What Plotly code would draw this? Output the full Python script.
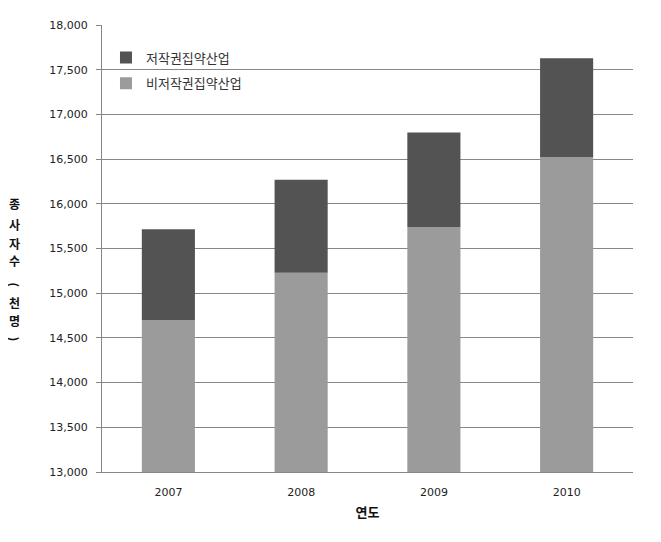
import plotly.graph_objects as go

years = ["2007", "2008", "2009", "2010"]
non_copyright = [14700, 15230, 15740, 16520]      # 비저작권집약산업
copyright_ = [1015, 1040, 1057, 1108]             # 저작권집약산업
y_ticks = [13000, 13500, 14000, 14500, 15000, 15500, 16000, 16500, 17000, 17500, 18000]
y_ticktext = [f"{v:,}" for v in y_ticks]
y_title_chars = ["종", "사", "자", "수", "(", "천", "명", ")"]

KR = "Noto Sans CJK KR"
fig = go.Figure()
fig.add_trace(go.Bar(
    x=years, y=non_copyright, name="비저작권집약산업",
    marker=dict(color="#9b9b9b", line=dict(width=0)), legend="legend2",
))
fig.add_trace(go.Bar(
    x=years, y=copyright_, name="저작권집약산업", base=non_copyright,
    marker=dict(color="#535353", line=dict(width=0)), legend="legend",
))

fig.update_layout(
    width=653, height=534,
    margin=dict(l=94, r=28, t=11, b=70),
    paper_bgcolor="white", plot_bgcolor="white",
    barmode="overlay", bargap=0.6,
    showlegend=True,
    legend=dict(x=0.0075, y=(472 - 52) / 453, xanchor="left", yanchor="middle",
                font=dict(family=KR, size=13, color="#333333"),
                bgcolor="rgba(0,0,0,0)"),
    legend2=dict(x=0.0075, y=(472 - 78) / 453, xanchor="left", yanchor="middle",
                 font=dict(family=KR, size=13, color="#333333"),
                 bgcolor="rgba(0,0,0,0)"),
    xaxis=dict(
        showline=True, linecolor="#868686", linewidth=1,
        ticks="", tickfont=dict(family="DejaVu Sans", size=11, color="#222222"),
        ticklabelstandoff=10,
        title=dict(text="<b>연도</b>", font=dict(family=KR, size=13, color="#111111"), standoff=9),
    ),
    yaxis=dict(
        range=[13000, 18000], tickvals=y_ticks, ticktext=y_ticktext,
        showgrid=True, gridcolor="#868686", gridwidth=1,
        showline=True, linecolor="#868686", linewidth=1,
        ticks="outside", ticklen=5, tickcolor="#868686",
        tickfont=dict(family="DejaVu Sans", size=11, color="#222222"),
        ticklabelstandoff=6, zeroline=False,
    ),
)

# vertical y-axis title, one character per annotation (pixel rows of the reference)
tfont = dict(family=KR, size=12, color="#111111")
X0 = (14 - 102) / 531
rows_px = [200, 221, 240, 258, 282, 300, 318, 337]
for ch, py in zip(y_title_chars, rows_px):
    fig.add_annotation(x=X0, y=(472 - py) / 453, xref="paper", yref="paper",
                       text=f"<b>{ch}</b>", showarrow=False, font=tfont,
                       textangle=90 if ch in "()" else 0,
                       xanchor="center", yanchor="middle", borderpad=0)

fig.write_html("out.html")
